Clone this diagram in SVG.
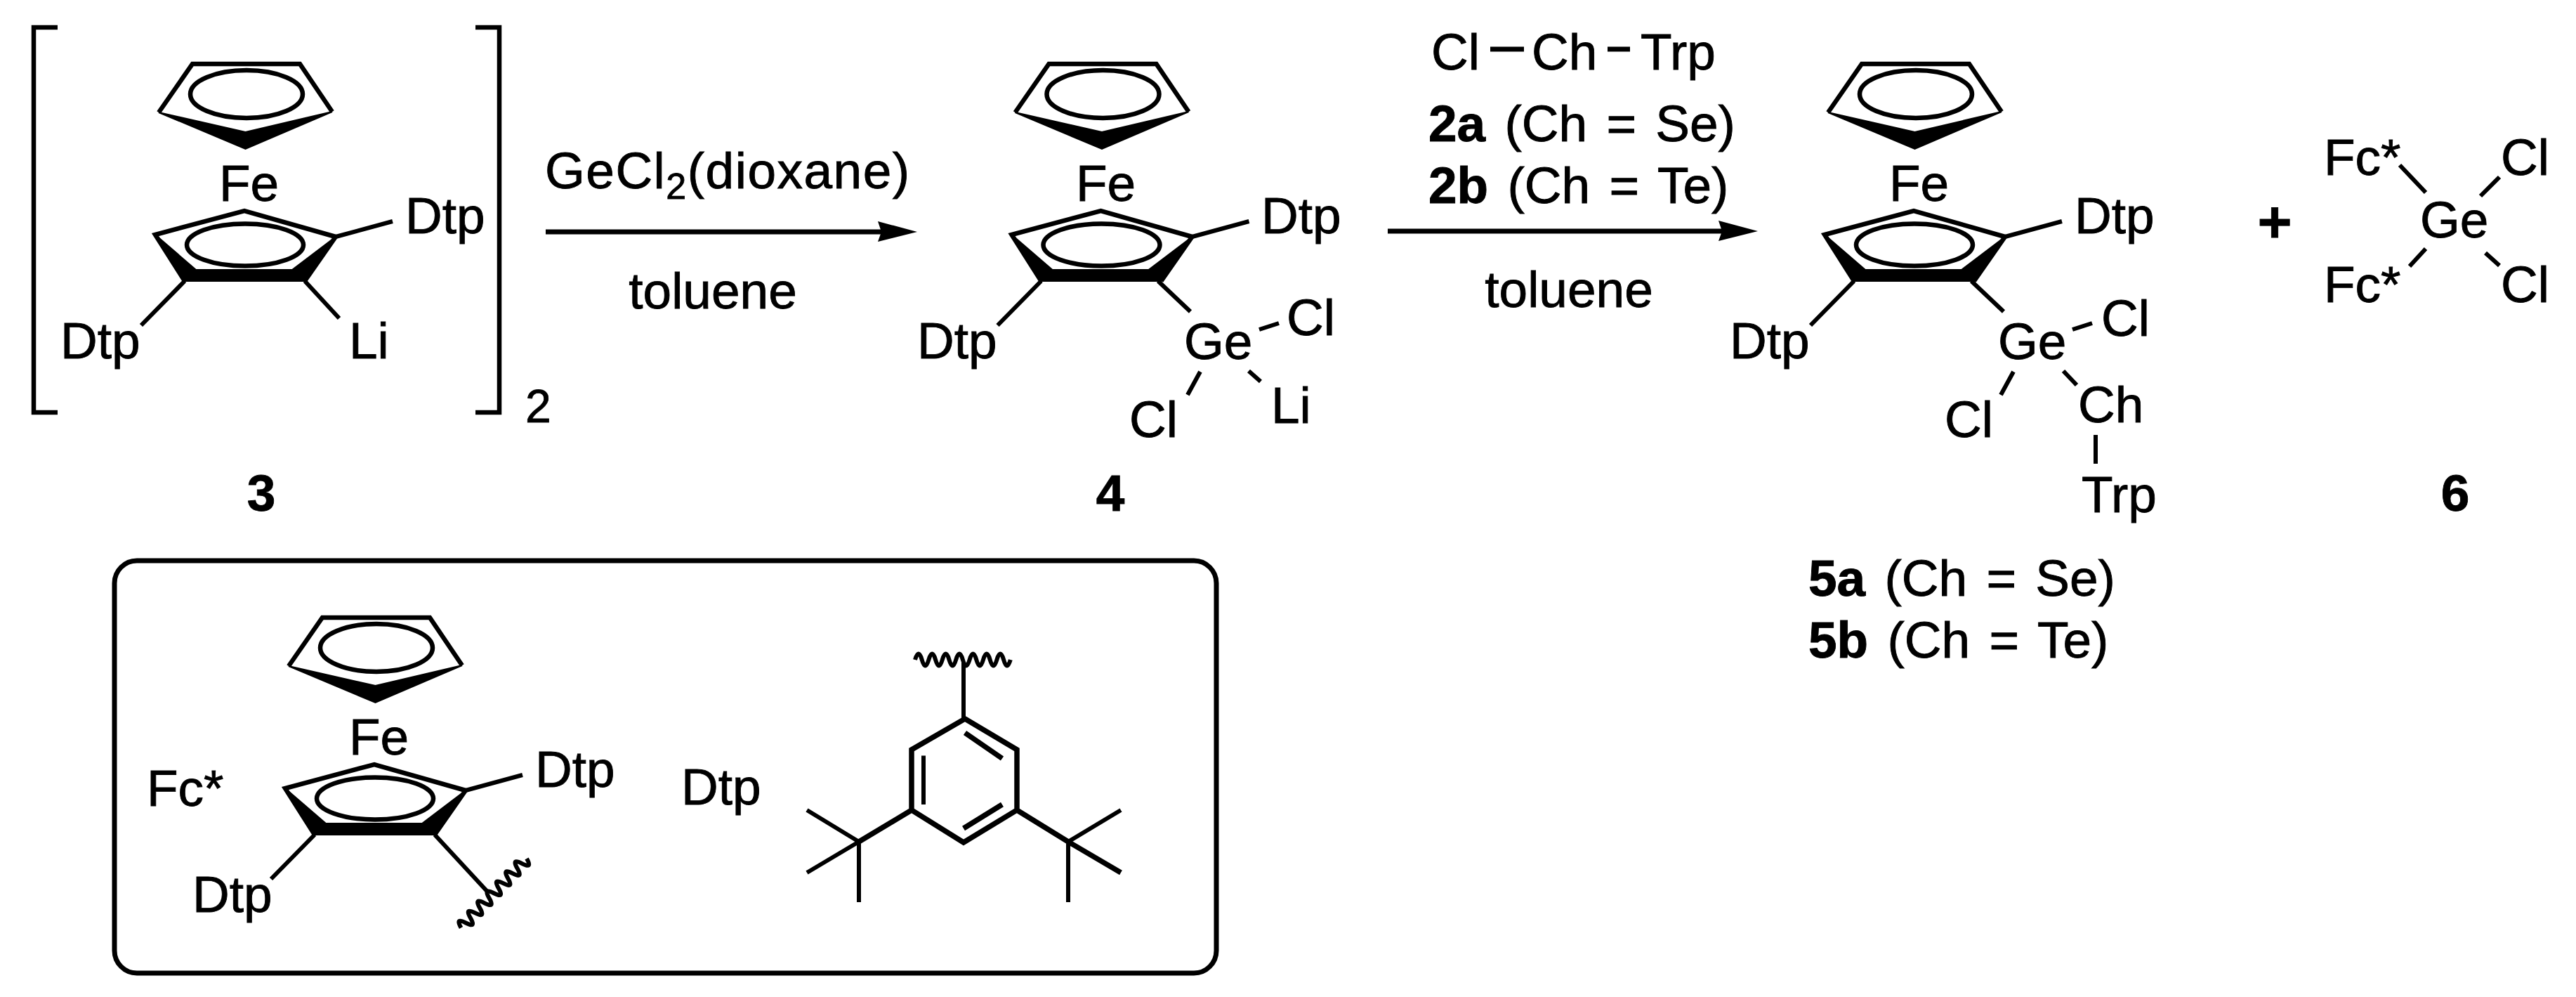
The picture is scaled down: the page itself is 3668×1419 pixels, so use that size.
<svg xmlns="http://www.w3.org/2000/svg" xmlns:xlink="http://www.w3.org/1999/xlink" width="3668" height="1419" viewBox="0 0 3668 1419">
<style>
text{font-family:"Liberation Sans",Arial,sans-serif;font-size:73px;fill:#000;stroke:#000;stroke-width:0.9}
.b{font-weight:bold}
.s{word-spacing:7px}
.ln{fill:none;stroke:#000;stroke-width:6.5;stroke-linejoin:miter}
.bd{fill:none;stroke:#000;stroke-width:6}
.th{fill:none;stroke:#000;stroke-width:7.5}
.f{fill:#000;stroke:#000;stroke-width:2;stroke-linejoin:miter}
.ar{fill:none;stroke:#000;stroke-width:7;marker-end:url(#ah)}
.wv{fill:none;stroke:#000;stroke-width:6}
</style>
<defs>
<marker id="ah" markerUnits="userSpaceOnUse" markerWidth="60" markerHeight="32" refX="6" refY="15" orient="auto"><path d="M0 0L56 15L0 29L5 15Z" fill="#000"/></marker>
<g id="ferro">
<path class="ln" d="M226 160L274 91H427L473 159"/>
<path class="f" d="M226 160L349.500 188L473 159L349.500 212Z"/>
<ellipse class="ln" cx="351" cy="134" rx="80" ry="34"/>
<path class="ln" d="M263 400L221 334L348 300L478 337L434 400"/>
<path class="f" d="M221 334L279 384H416L478 337L434 400H263Z"/>
<ellipse class="ln" cx="349" cy="348.500" rx="83" ry="30"/>
<path class="bd" d="M478 337L559 315M263 400L201 463"/>
</g>
<path id="wave" class="wv" d="M0 0q4.900 -17 9.700 0t9.700 0t9.700 0t9.700 0t9.700 0t9.700 0t9.700 0t9.700 0t9.700 0t9.700 0t9.700 0t9.700 0t9.700 0t9.700 0"/>
</defs>
<rect width="3668" height="1419" fill="#fff"/>
<g id="connectors">
<path class="ar" d="M777 330H1256"/>
<path class="ar" d="M1976 329H2453"/>
</g>
<g id="node-3">
<path class="ln" d="M82 39H48V587H82M677 39H711V587H677"/>
<use xlink:href="#ferro" href="#ferro"/>
<path class="bd" d="M434 400L483 453"/>
<text x="312" y="286">Fe</text>
<text x="577" y="332">Dtp</text>
<text x="86" y="510">Dtp</text>
<text x="497" y="510">Li</text>
<text x="748" y="601" style="font-size:66px">2</text>
<text class="b" x="372" y="727" text-anchor="middle">3</text>
</g>
<g id="reagent-1">
<text x="776" y="268" style="letter-spacing:1.5px">GeCl<tspan dy="15" style="font-size:52px">2</tspan><tspan dy="-15">(dioxane)</tspan></text>
<text x="1015" y="439" text-anchor="middle">toluene</text>
</g>
<g id="node-4">
<use xlink:href="#ferro" href="#ferro" x="1219.500"/>
<path class="bd" d="M1649 400L1695 443.500M1793 469L1821 460M1709 529L1691 562M1778 528L1795 543"/>
<text x="1532" y="286">Fe</text>
<text x="1796" y="332">Dtp</text>
<text x="1306" y="510">Dtp</text>
<text x="1686" y="511">Ge</text>
<text x="1832" y="477">Cl</text>
<text x="1608" y="622">Cl</text>
<text x="1810" y="602">Li</text>
<text class="b" x="1581" y="727" text-anchor="middle">4</text>
</g>
<g id="reagent-2">
<text x="2038" y="99">Cl</text>
<path d="M2122 70H2170M2289 70H2321" fill="none" stroke="#000" stroke-width="7"/>
<text x="2181" y="99">Ch</text>
<text x="2336" y="99">Trp</text>
<text class="s" x="2034" y="201"><tspan class="b">2a</tspan> (Ch = Se)</text>
<text class="s" x="2034" y="289"><tspan class="b">2b</tspan> (Ch = Te)</text>
<text x="2234" y="437" text-anchor="middle">toluene</text>
</g>
<g id="node-5">
<use xlink:href="#ferro" href="#ferro" x="2377"/>
<path class="bd" d="M2807 400L2853 443.500M2951 469L2979 460M2867 529L2849 562M2938 528L2957 548M2984 619V660"/>
<text x="2690" y="286">Fe</text>
<text x="2954" y="332">Dtp</text>
<text x="2463" y="510">Dtp</text>
<text x="2845" y="511">Ge</text>
<text x="2992" y="478">Cl</text>
<text x="2769" y="622">Cl</text>
<text x="2959" y="601">Ch</text>
<text x="2964" y="729">Trp</text>
<text class="s" x="2575" y="848"><tspan class="b">5a</tspan> (Ch = Se)</text>
<text class="s" x="2575" y="936"><tspan class="b">5b</tspan> (Ch = Te)</text>
</g>
<g id="plus"><text class="b" x="3239" y="345" text-anchor="middle" style="font-size:84px">+</text></g>
<g id="node-6">
<path class="bd" d="M3417 235L3454 274M3559 252L3532 279M3454 354L3431 379M3539 360L3559 378"/>
<text x="3309" y="249">Fc*</text>
<text x="3309" y="430">Fc*</text>
<text x="3561" y="249">Cl</text>
<text x="3561" y="430">Cl</text>
<text x="3446" y="338">Ge</text>
<text class="b" x="3496" y="727" text-anchor="middle">6</text>
</g>
<g id="legend">
<rect x="163" y="798" width="1569" height="587" rx="32" ry="32" fill="none" stroke="#000" stroke-width="7"/>
<use xlink:href="#ferro" href="#ferro" x="185" y="788"/>
<path class="bd" d="M619 1188L694 1269"/>
<use xlink:href="#wave" href="#wave" transform="translate(750 1222) rotate(133.500)"/>
<text x="497" y="1074">Fe</text>
<text x="762" y="1120">Dtp</text>
<text x="274" y="1298">Dtp</text>
<text x="209" y="1147">Fc*</text>
<text x="970" y="1145">Dtp</text>
<path class="th" d="M1374 1023L1448 1067V1153L1372 1199L1298 1153V1067ZM1374 1043L1427 1079.500M1427 1145L1372 1179M1298 1153L1223 1198M1448 1153L1521 1198M1596 1242L1521 1198"/>
<path class="bd" d="M1315 1075.400V1145M1372 943V1023M1149 1153L1223 1198M1149 1242L1223 1198M1223 1198V1284M1596 1153L1521 1198M1521 1198V1284"/>
<use xlink:href="#wave" href="#wave" x="1303" y="939"/>
</g>
</svg>
